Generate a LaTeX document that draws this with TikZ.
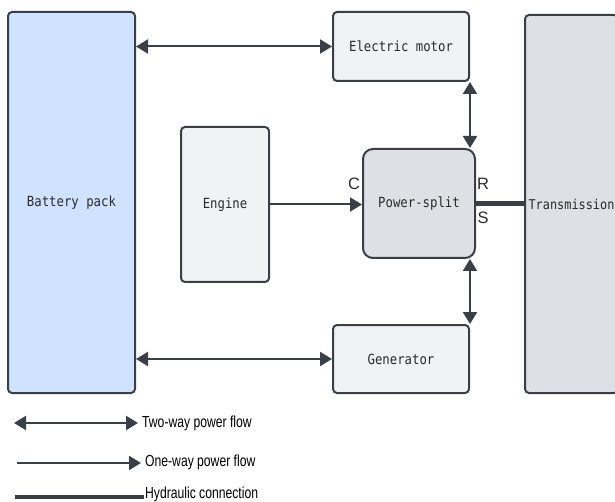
\documentclass[tikz,border=0pt]{standalone}
\usepackage{fontspec}
\setmainfont{Liberation Sans}
\newfontfamily\boxfont[FakeStretch=0.88]{DejaVu Sans Mono}
\newfontfamily\legendfont[FakeStretch=0.76]{Liberation Sans}
\usetikzlibrary{arrows.meta}
\definecolor{edge}{HTML}{3A3F47}
\definecolor{batfill}{HTML}{CFE2FF}
\definecolor{lightfill}{HTML}{F1F2F4}
\definecolor{midfill}{HTML}{DDE0E4}
\definecolor{txt}{HTML}{2A2A2A}
\tikzset{
  blockbox/.style={draw=edge, line width=2pt, rounded corners=4pt, inner sep=0pt,
    font=\boxfont\fontsize{14}{16}\selectfont, text=txt},
  flowline/.style={draw=edge, line width=2pt},
  twoway/.style={flowline, {Triangle[length=12pt,width=14pt]}-{Triangle[length=12pt,width=14pt]}},
  oneway/.style={flowline, -{Triangle[length=12pt,width=14pt]}},
  hydro/.style={draw=edge, line width=4.5pt},
  lbl/.style={font=\fontsize{16.5}{18}\selectfont, text=txt, inner sep=0pt},
  legtext/.style={font=\legendfont\fontsize{16}{18}\selectfont, text=black, inner sep=0pt, anchor=west}
}
\begin{document}
\begin{tikzpicture}[x=1pt,y=-1pt]
\useasboundingbox (0,0) rectangle (615,502);
\clip (0,0) rectangle (615,502);
% blocks
\node[blockbox, fill=batfill, minimum width=127pt, minimum height=381pt] (bat) at (71.5,202.5) {Battery pack};
\node[blockbox, fill=lightfill, minimum width=136pt, minimum height=69pt] (em) at (401,46.5) {Electric motor};
\node[blockbox, fill=lightfill, minimum width=88pt, minimum height=155pt] (eng) at (225,204.5) {Engine};
\node[blockbox, fill=midfill, rounded corners=10pt, minimum width=112pt, minimum height=109pt] (ps) at (419,203.5) {Power-split};
\node[blockbox, fill=lightfill, minimum width=136pt, minimum height=68pt] (gen) at (401,359) {Generator};
\node[blockbox, fill=midfill, minimum width=93pt, minimum height=378pt,
  font=\boxfont\fontsize{13.5}{16}\selectfont] (tr) at (571.5,204) {Transmission};
% connectors
\draw[twoway] (bat.east |- em.west) -- (em.west);
\draw[twoway] (bat.east |- gen.west) -- (gen.west);
\draw[oneway] (eng.east) -- (ps.west |- eng.east);
\draw[twoway] (em.south east) -- (em.south east |- ps.north);
\draw[twoway] (gen.north east |- ps.south) -- (gen.north east);
\draw[hydro] (ps.east) -- (tr.west |- ps.east);
% port labels
\node[lbl] (lc) at (354,184) {C};
\node[lbl] (lr) at (483,184) {R};
\node[lbl] (ls) at (483,218) {S};
% legend
\coordinate (l1a) at (14,423);
\coordinate (l1b) at (138,423);
\coordinate (l2a) at (17,463);
\coordinate (l2b) at (141,463);
\coordinate (l3a) at (15,497);
\coordinate (l3b) at (144,497);
\draw[twoway] (l1a) -- (l1b);
\draw[oneway] (l2a) -- (l2b);
\draw[hydro] (l3a) -- (l3b);
\node[legtext] (t1) at (142,423) {Two-way power flow};
\node[legtext] (t2) at (145,462) {One-way power flow};
\node[legtext] (t3) at (145,494) {Hydraulic connection};
\end{tikzpicture}
\end{document}
